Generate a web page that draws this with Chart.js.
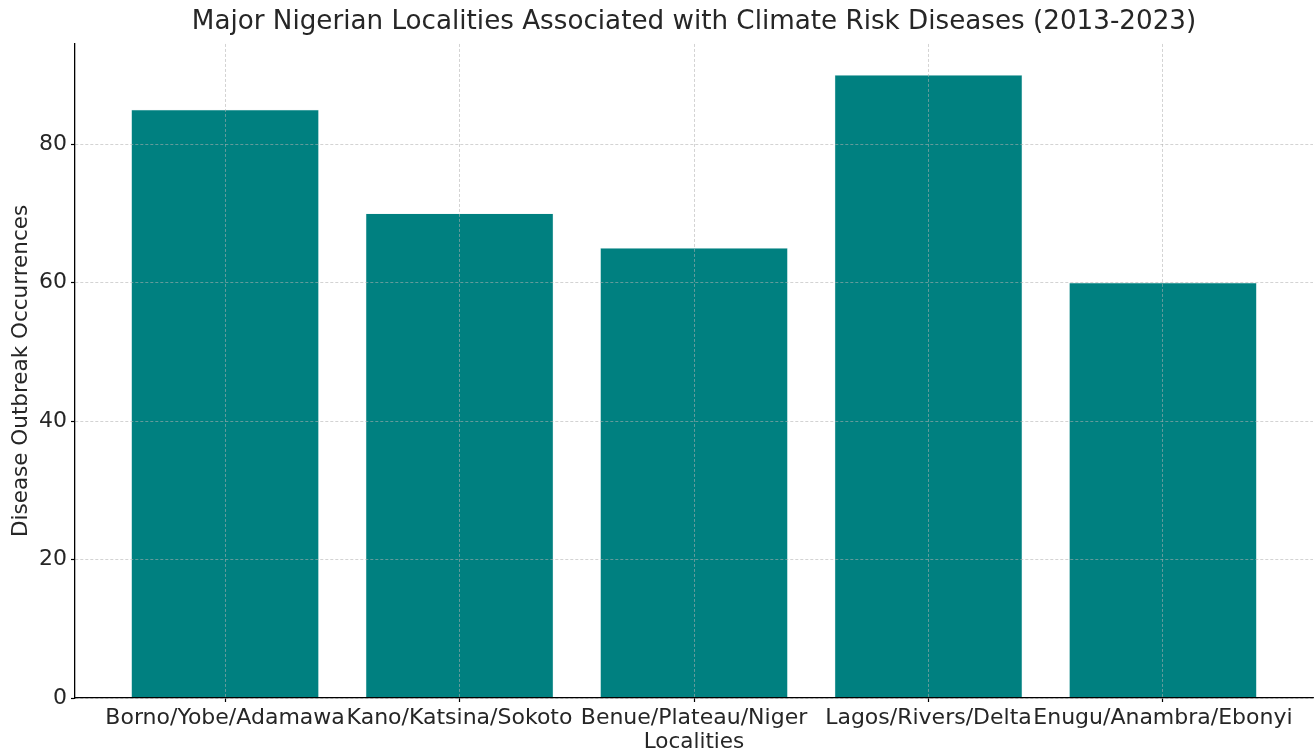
<!DOCTYPE html>
<html>
<head>
<meta charset="utf-8">
<script src="https://cdn.jsdelivr.net/npm/chart.js@4"></script>
<style>
html,body{margin:0;padding:0;background:#fff;}
#wrap{width:1315px;height:754px;}
</style>
</head>
<body>
<div id="wrap"><canvas id="c" width="1315" height="754"></canvas></div>
<script>
const categories = ["Borno/Yobe/Adamawa","Kano/Katsina/Sokoto","Benue/Plateau/Niger","Lagos/Rivers/Delta","Enugu/Anambra/Ebonyi"];
const values = [85, 70, 65, 90, 60];
const yTicks = [0, 20, 40, 60, 80];
const chartTitle = "Major Nigerian Localities Associated with Climate Risk Diseases (2013-2023)";
const xTitle = "Localities";
const yTitle = "Disease Outbreak Occurrences";

const FONT = "'DejaVu Sans', sans-serif";
const gridColor = 'rgba(176,176,176,0.7)';
const n = categories.length;
const margin = 0.05 * (n - 1 + 0.8);

new Chart(document.getElementById('c'), {
  type: 'bar',
  data: {
    datasets: [{
      data: values.map((v, i) => ({x: i, y: v})),
      backgroundColor: '#008080',
      borderColor: 'rgba(180,220,220,0.6)',
      borderWidth: 0.5,
      barPercentage: 0.8,
      categoryPercentage: 1.0
    }]
  },
  options: {
    responsive: false,
    animation: false,
    layout: {padding: {left: 0, right: 2, top: 0, bottom: 0}},
    plugins: {
      legend: {display: false},
      tooltip: {enabled: false},
      title: {
        display: true,
        fullSize: false,
        text: chartTitle,
        color: '#262626',
        font: {family: FONT, size: 26.2, weight: 'normal'},
        padding: {top: 6.5, bottom: 6}
      }
    },
    scales: {
      x: {
        type: 'linear',
        min: -0.4 - margin,
        max: n - 1 + 0.4 + margin,
        offset: false,
        afterBuildTicks: s => { s.ticks = categories.map((c, i) => ({value: i})); },
        afterFit: s => { s.height = 56; },
        ticks: {
          autoSkip: false, maxRotation: 0, minRotation: 0,
          color: '#262626', padding: 3,
          font: {family: FONT, size: 22},
          callback: v => categories[v]
        },
        grid: {
          z: 1, offset: false, color: gridColor, lineWidth: 0.8,
          drawTicks: true, tickLength: 4, tickColor: '#000', tickWidth: 1.2, tickBorderDash: []
        },
        border: {display: true, color: '#000', width: 1.3, dash: [3, 2], z: 2},
        title: {
          display: true, text: xTitle, color: '#262626',
          font: {family: FONT, size: 21.5}, padding: {top: 0, bottom: -1}
        }
      },
      y: {
        min: 0,
        max: Math.max(...values) * 1.05,
        afterBuildTicks: s => { s.ticks = yTicks.map(v => ({value: v})); },
        afterFit: s => { s.width = 75; },
        ticks: {
          color: '#262626', padding: 4,
          font: {family: FONT, size: 22}
        },
        grid: {
          z: 1, color: gridColor, lineWidth: 0.8,
          drawTicks: true, tickLength: 4, tickColor: '#000', tickWidth: 1.2, tickBorderDash: []
        },
        border: {display: true, color: '#000', width: 1.3, dash: [3, 2], z: 2},
        title: {
          display: true, text: yTitle, color: '#262626',
          font: {family: FONT, size: 21.5}, padding: {top: 9, bottom: 0}
        }
      }
    }
  }
});
</script>
</body>
</html>
